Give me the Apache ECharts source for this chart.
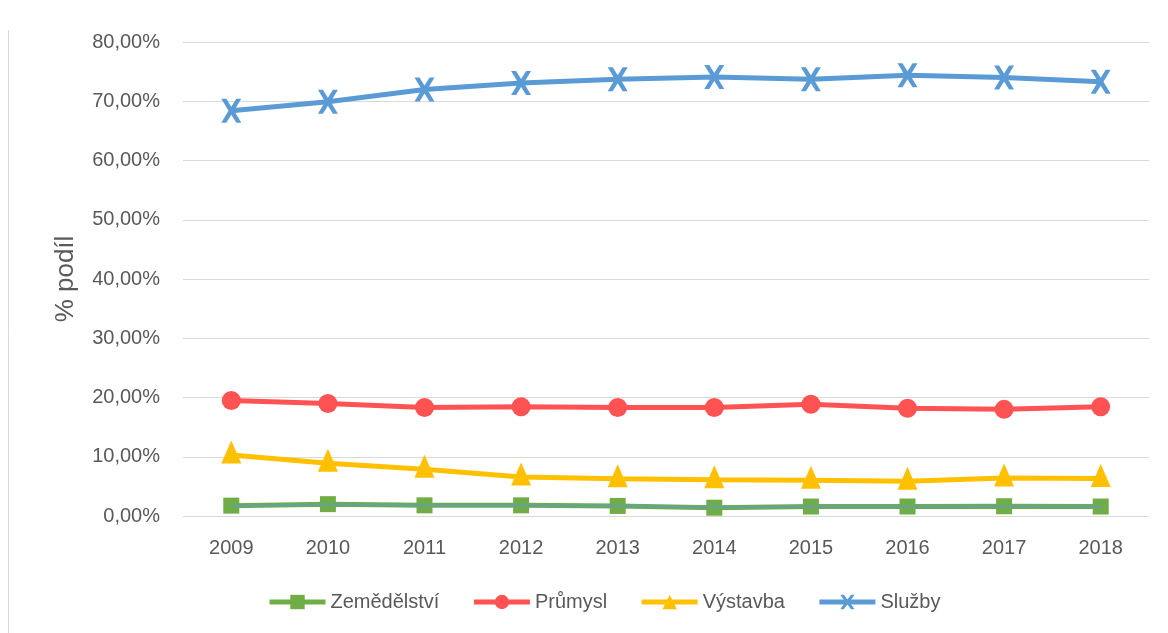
<!DOCTYPE html>
<html><head><meta charset="utf-8">
<script src="https://cdn.jsdelivr.net/npm/echarts@6/dist/echarts.min.js"></script>
<style>html,body{margin:0;padding:0;background:#fff}#c{width:1168px;height:633px}</style>
</head><body><div id="c"></div>
<script>
const years = ['2009','2010','2011','2012','2013','2014','2015','2016','2017','2018'];
const zemedelstvi = [1.75, 2.0, 1.8, 1.8, 1.7, 1.4, 1.6, 1.6, 1.65, 1.6];
const prumysl = [19.5, 19.0, 18.3, 18.45, 18.3, 18.3, 18.85, 18.2, 18.0, 18.45];
const vystavba = [10.3, 8.9, 7.9, 6.6, 6.3, 6.1, 6.05, 5.85, 6.4, 6.35];
const sluzby = [68.4, 69.9, 72.0, 73.1, 73.7, 74.1, 73.7, 74.4, 74.0, 73.3];
const dotted = [1.7, 1.9, 1.8, 1.8, 1.7, 1.5, 1.55, 1.55, 1.6, 1.55];
const yTicks = [0, 10, 20, 30, 40, 50, 60, 70, 80];

const FONT = 'Liberation Sans';
const TXT = '#595959';
const xPath = 'path://M0,0H5L10,8L15,0H20L12.8,12L20,24H15L10,16L5,24H0L7.2,12Z';

const chart = echarts.init(document.getElementById('c'));
chart.setOption({
  animation: false,
  textStyle: { fontFamily: FONT },
  grid: { left: 183, right: 19, top: 42, bottom: 117 },
  legend: {
    bottom: 16, left: 262, itemWidth: 56, itemHeight: 18, itemGap: 32,
    textStyle: { fontSize: 20, color: TXT, fontFamily: FONT },
    lineStyle: { width: 5 },
    data: ['Zemědělství', 'Průmysl', 'Výstavba', 'Služby']
  },
  xAxis: {
    type: 'category', data: years, boundaryGap: true,
    axisLine: { show: false }, axisTick: { show: false },
    axisLabel: { fontSize: 20, color: TXT, margin: 22 }
  },
  yAxis: {
    type: 'value', min: yTicks[0], max: yTicks[yTicks.length - 1], interval: 10,
    name: '% podíl', nameLocation: 'middle', nameGap: 104, nameRotate: 90,
    nameTextStyle: { fontSize: 26, color: TXT, fontFamily: FONT },
    axisLine: { show: false }, axisTick: { show: false },
    axisLabel: { fontSize: 20, color: TXT, margin: 23,
      formatter: v => v.toFixed(2).replace('.', ',') + '%' },
    splitLine: { lineStyle: { color: '#d9d9d9', width: 1 } }
  },
  series: [
    { name: 'Zemědělství', type: 'line', data: zemedelstvi, symbol: 'rect', symbolSize: 16,
      lineStyle: { color: '#70ad47', width: 5 }, itemStyle: { color: '#70ad47' }, z: 3 },
    { name: 'Průmysl', type: 'line', data: prumysl, symbol: 'circle', symbolSize: 19,
      lineStyle: { color: '#ff5353', width: 5 }, itemStyle: { color: '#ff5353' } },
    { name: 'Výstavba', type: 'line', data: vystavba, symbol: 'triangle', symbolSize: [20, 23],
      symbolOffset: [0, -3],
      lineStyle: { color: '#ffc000', width: 5 }, itemStyle: { color: '#ffc000' } },
    { name: 'Služby', type: 'line', data: sluzby, symbol: xPath, symbolSize: [20, 24],
      lineStyle: { color: '#5b9bd5', width: 5 }, itemStyle: { color: '#5b9bd5' } },
    { name: 'dotted', type: 'line', data: dotted, symbol: 'none', z: 4,
      lineStyle: { color: '#5b9bd5', width: 3, type: [2, 2] } }
  ],
  graphic: [
    { type: 'line', shape: { x1: 8.5, y1: 30, x2: 8.5, y2: 633 }, style: { stroke: '#d9d9d9', lineWidth: 1 } }
  ]
});
</script></body></html>
